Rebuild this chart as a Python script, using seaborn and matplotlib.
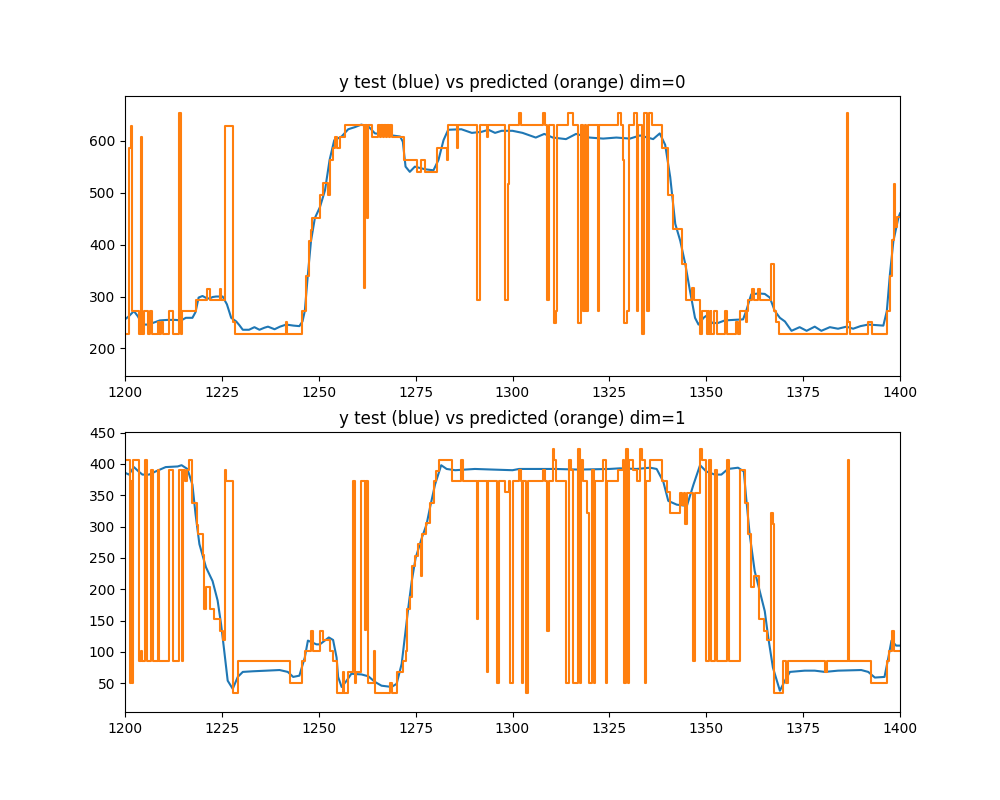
import matplotlib
matplotlib.use("Agg")
import matplotlib.pyplot as plt
import seaborn as sns

# dim=0 : true values (blue)
test0_x = [1200, 1201, 1202.3, 1203.3, 1204.5, 1206, 1207.5, 1209, 1211, 1213, 1214.5, 1215.7, 1217.4,
           1218.2, 1219, 1220, 1221, 1221.8, 1222.6, 1223.5, 1225.2, 1226.3, 1227.4, 1228.7, 1229.5,
           1230.4, 1232, 1233.4, 1234.7, 1236, 1236.9, 1238.6, 1240, 1241.6, 1243.5, 1245, 1245.8,
           1246.4, 1247.2, 1248, 1249, 1250.3, 1251.6, 1252.8, 1254, 1255.9, 1257.6, 1259.3, 1261,
           1263, 1264.5, 1268, 1271, 1271.7, 1272.4, 1273.5, 1274.8, 1277.4, 1279.6, 1280.9, 1282.2,
           1283.4, 1286.8, 1289.5, 1292, 1293.8, 1295.5, 1297.2, 1300, 1302.6, 1306, 1308.2, 1310.4,
           1313.8, 1316.4, 1319.9, 1323.4, 1326.8, 1330.3, 1332.9, 1336.3, 1338, 1339.4, 1340.7, 1342,
           1343.3, 1344.6, 1345.8, 1347.1, 1348, 1349.3, 1350.4, 1351.5, 1353, 1354.8, 1357, 1359.5,
           1360.3, 1361.6, 1363.5, 1365.1, 1366.4, 1367.7, 1369, 1370.3, 1372, 1374.1, 1375.9, 1378,
           1379.7, 1381.9, 1384, 1386.2, 1387.9, 1389.8, 1391.8, 1393.8, 1395.7, 1396.6, 1397.4,
           1398.3, 1399.6, 1400]
test0_y = [256, 262, 272, 262, 246, 246, 250, 254, 255, 255, 254, 259, 259,
           270, 298, 301, 297, 296, 299, 300, 300, 285, 259, 252, 245,
           236, 236, 241, 236, 240, 242, 237, 242, 246, 244, 243, 252,
           272, 343, 407, 451, 472, 504, 563, 601, 608, 622, 626, 631,
           626, 614, 611, 608, 598, 550, 540, 550, 545, 543, 563, 601,
           621, 622, 615, 617, 621, 615, 619, 619, 615, 606, 613, 606,
           603, 613, 606, 604, 606, 604, 610, 603, 614, 592, 530, 440,
           407, 362, 311, 259, 246, 259, 265, 249, 249, 254, 255, 256,
           272, 304, 306, 305, 298, 272, 259, 252, 234, 241, 234, 242,
           234, 241, 238, 242, 238, 243, 246, 245, 244, 272, 343,
           407, 452, 460]

# dim=0 : predicted values (orange), step starts
pred0_x = [1200, 1201.0, 1201.5, 1201.9, 1203.5, 1204.2, 1204.5, 1204.9, 1206.0, 1206.5, 1207.0, 1208.4,
           1208.7, 1209.2, 1209.7, 1211.4, 1212.3, 1214.0, 1214.4, 1214.7, 1218.3, 1221.1, 1221.9,
           1224.4, 1224.8, 1225.9, 1227.8, 1228.4, 1241.5, 1241.8, 1245.8, 1246.6, 1247.5, 1247.9,
           1248.3, 1250.3, 1251.1, 1252.4, 1252.8, 1253.7, 1254.1, 1254.8, 1255.4, 1256.7, 1261.7,
           1262.0, 1262.5, 1262.8, 1263.8, 1265.3, 1265.7, 1266.1, 1266.5, 1266.9, 1267.3, 1267.7,
           1268.1, 1268.5, 1269.0, 1272.1, 1275.3, 1276.3, 1277.4, 1280.4, 1283.0, 1283.4, 1285.6,
           1286.0, 1290.8, 1291.5, 1293.4, 1293.8, 1298.1, 1298.8, 1299.2, 1301.7, 1302.2, 1307.8,
           1308.5, 1308.9, 1309.3, 1310.8, 1311.1, 1311.4, 1314.3, 1315.6, 1316.9, 1317.7, 1318.3,
           1318.6, 1318.9, 1319.4, 1322.0, 1322.4, 1327.2, 1328.1, 1328.5, 1328.9, 1329.6, 1330.0,
           1331.3, 1332.0, 1332.4, 1333.3, 1333.9, 1334.6, 1335.1, 1335.9, 1338.5, 1340.2, 1341.5,
           1343.7, 1344.8, 1346.4, 1346.8, 1348.4, 1348.8, 1350.1, 1350.4, 1350.8, 1351.1, 1351.3,
           1352.1, 1352.8, 1354.9, 1355.3, 1357.8, 1358.1, 1358.6, 1360.2, 1360.4, 1360.8, 1361.9,
           1362.2, 1363.4, 1363.8, 1366.6, 1367.4, 1368.1, 1368.7, 1386.2, 1386.7, 1387.0, 1391.8,
           1392.7, 1396.6, 1397.3, 1397.9, 1398.4, 1398.8, 1399.3, 1400]
pred0_y = [227, 586, 628, 272, 227, 608, 227, 272, 227, 272, 227, 250,
           227, 250, 227, 272, 227, 653, 227, 272, 294, 315, 294,
           315, 294, 628, 250, 227, 250, 227, 272, 340, 406, 428,
           451, 496, 519, 496, 563, 585, 608, 585, 608, 631, 316,
           631, 451, 631, 608, 631, 608, 631, 608, 631, 608, 631,
           608, 631, 608, 563, 540, 563, 540, 585, 563, 631, 585,
           631, 293, 631, 608, 631, 293, 517, 631, 653, 631, 653,
           631, 293, 631, 249, 272, 631, 653, 631, 249, 631, 272,
           631, 272, 631, 272, 631, 653, 631, 563, 249, 272, 631,
           653, 272, 631, 227, 653, 272, 653, 631, 585, 496, 430,
           362, 294, 317, 294, 227, 272, 227, 272, 227, 272, 227,
           272, 227, 272, 227, 250, 227, 272, 250, 272, 294, 315,
           294, 315, 294, 362, 272, 250, 227, 653, 250, 227, 250,
           227, 272, 340, 408, 517, 433, 453, 453]

# dim=1 : true values (blue)
test1_x = [1200, 1201, 1202.3, 1203.5, 1204.5, 1206.2, 1207.9, 1210.5, 1213.6, 1214.6, 1216.1, 1217.4,
           1218.2, 1219.2, 1220.9, 1222.6, 1223.9, 1224.8, 1225.6, 1226.5, 1227.8, 1229.1, 1230.4,
           1233, 1236.5, 1239.9, 1242, 1243.4, 1245, 1246.4, 1247.2, 1249.4, 1250.3, 1252.6, 1253.7,
           1254.6, 1255, 1255.9, 1257.2, 1258.4, 1261, 1262.8, 1264.5, 1266.2, 1268.8, 1270.1, 1271.4,
           1272.2, 1273.1, 1274, 1275, 1276.6, 1277.8, 1278.7, 1280, 1281.6, 1283, 1285.2, 1290.3,
           1295, 1300, 1301.7, 1307, 1311, 1317, 1325, 1327.7, 1332, 1335.5, 1337.2, 1338.9, 1340.2,
           1342.4, 1345, 1346.7, 1348.4, 1350, 1352.2, 1353.9, 1355.6, 1358.2, 1359.7, 1360.3, 1361.2,
           1362.5, 1363.8, 1365.1, 1366, 1367.2, 1369, 1370.3, 1371.6, 1375.4, 1378, 1380.6, 1384,
           1390, 1391.8, 1393.5, 1396, 1397, 1397.8, 1399, 1400]
test1_y = [386, 383, 395, 388, 383, 383, 388, 395, 396, 398, 392, 367,
           320, 272, 235, 213, 182, 144, 102, 54, 41, 60, 68,
           69, 70, 71, 68, 60, 62, 91, 118, 112, 112, 123, 119,
           91, 60, 44, 54, 65, 64, 61, 52, 46, 44, 49, 81,
           123, 170, 213, 250, 282, 303, 330, 367, 398, 392, 390, 392,
           391, 390, 392, 392, 392, 391, 392, 393, 392, 394, 392, 372, 341,
           335, 333, 367, 398, 388, 383, 383, 392, 394, 388, 346, 288,
           229, 197, 165, 123, 75, 38, 54, 68, 70, 70, 68, 70,
           71, 68, 59, 60, 91, 118, 110, 110]

# dim=1 : predicted values (orange), step starts
pred1_x = [1200, 1201.2, 1201.5, 1201.8, 1202.0, 1203.5, 1204.0, 1204.4, 1205.2, 1205.8, 1206.6, 1207.1,
           1208.5, 1208.8, 1211.4, 1212.3, 1214.0, 1214.7, 1215.0, 1215.6, 1216.0, 1216.6, 1217.3,
           1218.5, 1218.8, 1220.0, 1220.4, 1221.0, 1221.9, 1223.0, 1224.4, 1225.4, 1225.9, 1226.1,
           1227.8, 1229.1, 1242.5, 1245.8, 1246.4, 1247.9, 1248.4, 1250.3, 1251.1, 1252.8, 1253.7,
           1254.8, 1256.2, 1256.6, 1257.6, 1258.9, 1259.4, 1259.7, 1260.9, 1262.0, 1262.3, 1262.8,
           1264.3, 1264.5, 1268.4, 1268.8, 1270.1, 1271.8, 1272.4, 1272.9, 1273.5, 1274.1, 1274.8,
           1275.7, 1276.4, 1276.6, 1277.8, 1278.7, 1279.8, 1280.3, 1281.0, 1284.4, 1286.6, 1287.1,
           1290.8, 1291.2, 1293.4, 1293.8, 1296.0, 1296.4, 1298.1, 1299.0, 1299.4, 1300.1, 1301.7,
           1302.1, 1302.4, 1302.8, 1303.6, 1304.0, 1307.8, 1308.5, 1308.9, 1309.3, 1310.4, 1310.8,
           1311.3, 1313.7, 1314.5, 1315.2, 1315.6, 1316.9, 1317.4, 1317.7, 1318.2, 1319.2, 1319.7,
           1320.6, 1321.0, 1321.3, 1323.4, 1324.0, 1324.4, 1327.2, 1328.5, 1328.9, 1329.2, 1329.8,
           1330.1, 1331.2, 1332.0, 1332.9, 1333.3, 1334.1, 1334.5, 1335.5, 1338.5, 1339.8, 1340.7,
           1343.1, 1343.7, 1344.2, 1344.6, 1345.1, 1346.5, 1347.0, 1348.4, 1349.0, 1350.0, 1350.6,
           1351.3, 1352.2, 1352.8, 1355.4, 1355.8, 1358.6, 1360.1, 1360.8, 1361.6, 1362.3, 1363.6,
           1364.9, 1365.8, 1366.6, 1367.1, 1367.5, 1369.8, 1370.7, 1371.1, 1380.6, 1381.1, 1386.6,
           1386.9, 1392.5, 1396.6, 1397.1, 1398.0, 1398.5, 1400]
pred1_y = [407, 50, 372, 50, 407, 85, 102, 85, 407, 85, 390, 85,
           390, 85, 390, 85, 390, 85, 390, 372, 390, 407, 338,
           303, 288, 254, 168, 203, 168, 152, 134, 119, 390, 372,
           34, 85, 50, 85, 102, 134, 102, 134, 119, 102, 85,
           34, 68, 34, 68, 372, 50, 68, 372, 135, 372, 50,
           102, 34, 50, 34, 68, 85, 102, 168, 187, 237, 253,
           272, 221, 288, 306, 338, 372, 389, 407, 372, 407, 372,
           152, 372, 68, 372, 50, 372, 356, 372, 50, 372, 390,
           372, 50, 372, 34, 372, 390, 372, 134, 372, 424, 407,
           372, 50, 407, 390, 50, 424, 50, 407, 372, 322, 50,
           390, 50, 372, 407, 50, 372, 390, 407, 50, 424, 50,
           407, 390, 372, 424, 407, 50, 372, 407, 372, 356, 322,
           354, 335, 354, 304, 354, 85, 354, 424, 407, 85, 407,
           85, 390, 85, 407, 85, 390, 338, 288, 203, 221, 152,
           134, 119, 322, 304, 34, 85, 50, 85, 68, 85, 407,
           85, 50, 85, 102, 134, 102, 102]

fig, axes = plt.subplots(2, 1, figsize=(10, 8), dpi=100)

panels = [
    (test0_x, test0_y, pred0_x, pred0_y, (147, 686)),
    (test1_x, test1_y, pred1_x, pred1_y, (4, 451)),
]
for dim, (ax, (tx, ty, px, py, ylim)) in enumerate(zip(axes, panels)):
    sns.lineplot(x=tx, y=ty, ax=ax, color="#1f77b4", estimator=None, linewidth=1.5)
    sns.lineplot(x=px, y=py, ax=ax, color="#ff7f0e", estimator=None, linewidth=1.5,
                 drawstyle="steps-post")
    ax.set_xlim(1200, 1400)
    ax.set_ylim(*ylim)
    ax.set_title(f"y test (blue) vs predicted (orange) dim={dim}")

axes[0].set_yticks([200, 300, 400, 500, 600])
axes[1].set_yticks([50, 100, 150, 200, 250, 300, 350, 400, 450])

plt.savefig("out.png")
